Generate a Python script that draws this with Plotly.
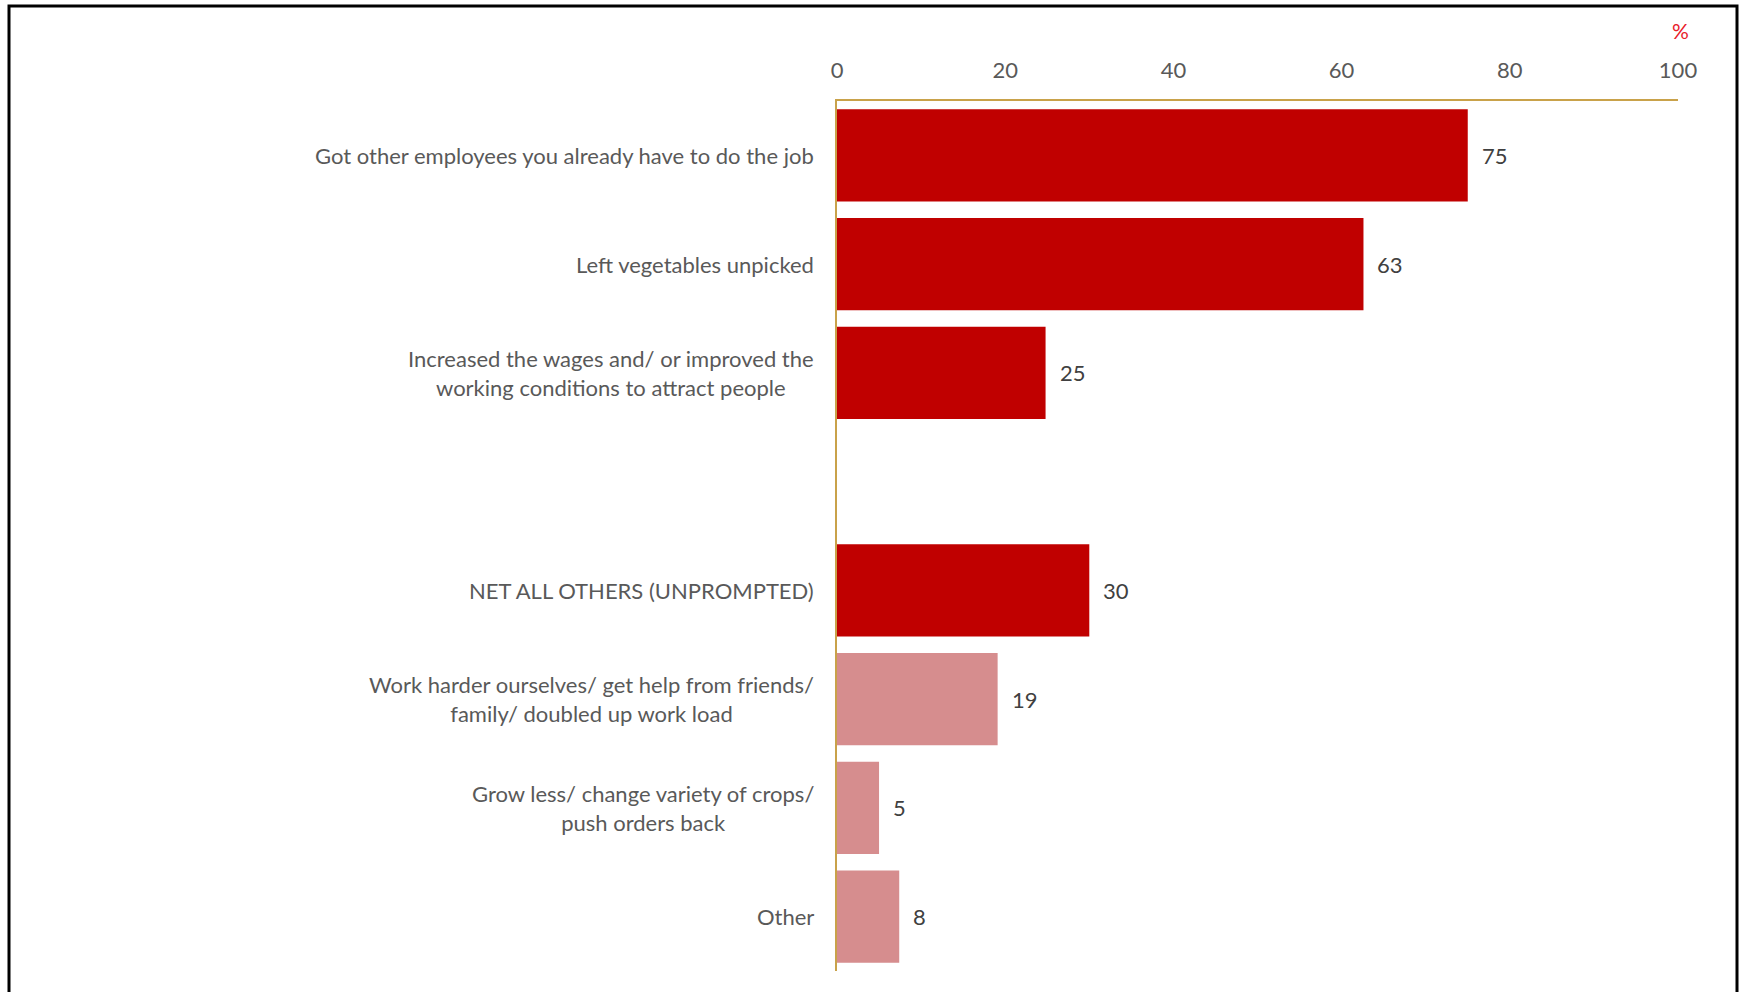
import plotly.graph_objects as go

categories = [
    "Got other employees you already have to do the job",
    "Left vegetables unpicked",
    "Increased the wages and/ or improved the<br>working conditions to attract people",
    "",
    "NET ALL OTHERS (UNPROMPTED)",
    "Work harder ourselves/ get help from friends/<br>family/ doubled up work load",
    "Grow less/ change variety of crops/<br>push orders back",
    "Other",
]
values = [75, 62.6, 24.8, None, 30, 19.1, 5, 7.4]
labels = ["75", "63", "25", "", "30", "19", "5", "8"]
colors = ["#C00000", "#C00000", "#C00000", "#C00000", "#C00000", "#D68D8E", "#D68D8E", "#D68D8E"]
x_ticks = [0, 20, 40, 60, 80, 100]

ids = [f"c{i}" for i in range(len(categories))]

FONT = "Lato, 'Open Sans', sans-serif"
GOLD = "#C9A24A"

fig = go.Figure()
fig.add_trace(go.Bar(
    x=values, y=ids, orientation="h",
    marker=dict(color=colors, line=dict(width=0)),
    hoverinfo="skip",
))

annotations = []
for cid, cat, v, lab in zip(ids, categories, values, labels):
    if cat:
        annotations.append(dict(
            x=0, y=cid, xref="x", yref="y", text=cat, showarrow=False,
            xanchor="right", yanchor="middle", align="center", xshift=-21,
            font=dict(family=FONT, size=22, color="#595959"),
        ))
    if v is not None:
        annotations.append(dict(
            x=v, y=cid, xref="x", yref="y", text=lab, showarrow=False,
            xanchor="left", yanchor="middle", xshift=12,
            font=dict(family=FONT, size=22, color="#404040"),
        ))
annotations.append(dict(
    x=1.003, y=1.081, xref="paper", yref="paper", text="%", showarrow=False,
    xanchor="center", yanchor="middle",
    font=dict(family=FONT, size=21, color="#E8202A"),
))

fig.update_layout(
    width=1741, height=992,
    margin=dict(l=837, r=63, t=101, b=21),
    paper_bgcolor="white", plot_bgcolor="white",
    bargap=0.15,
    showlegend=False,
    annotations=annotations,
    xaxis=dict(
        side="top", range=[0, 100], tickvals=x_ticks,
        showgrid=False, zeroline=False,
        showline=True, linecolor=GOLD, linewidth=2,
        tickfont=dict(family=FONT, size=22, color="#595959"),
        ticks="", ticklabelstandoff=12,
    ),
    yaxis=dict(
        type="category", categoryorder="array", categoryarray=ids,
        autorange="reversed", showticklabels=False,
        showgrid=False, zeroline=False,
        showline=True, linecolor=GOLD, linewidth=2,
        ticks="",
    ),
    shapes=[dict(
        type="rect", xref="paper", yref="paper",
        x0=(9 - 837) / 841, x1=(1737 - 837) / 841,
        y0=(971 - 1010) / 870, y1=(971 - 6) / 870,
        line=dict(color="black", width=3), fillcolor="rgba(0,0,0,0)",
        layer="above",
    )],
)

fig.write_html(
    "out.html",
    config={"displayModeBar": False},
    post_script="document.body.style.margin='0';document.body.style.overflow='hidden';",
)
